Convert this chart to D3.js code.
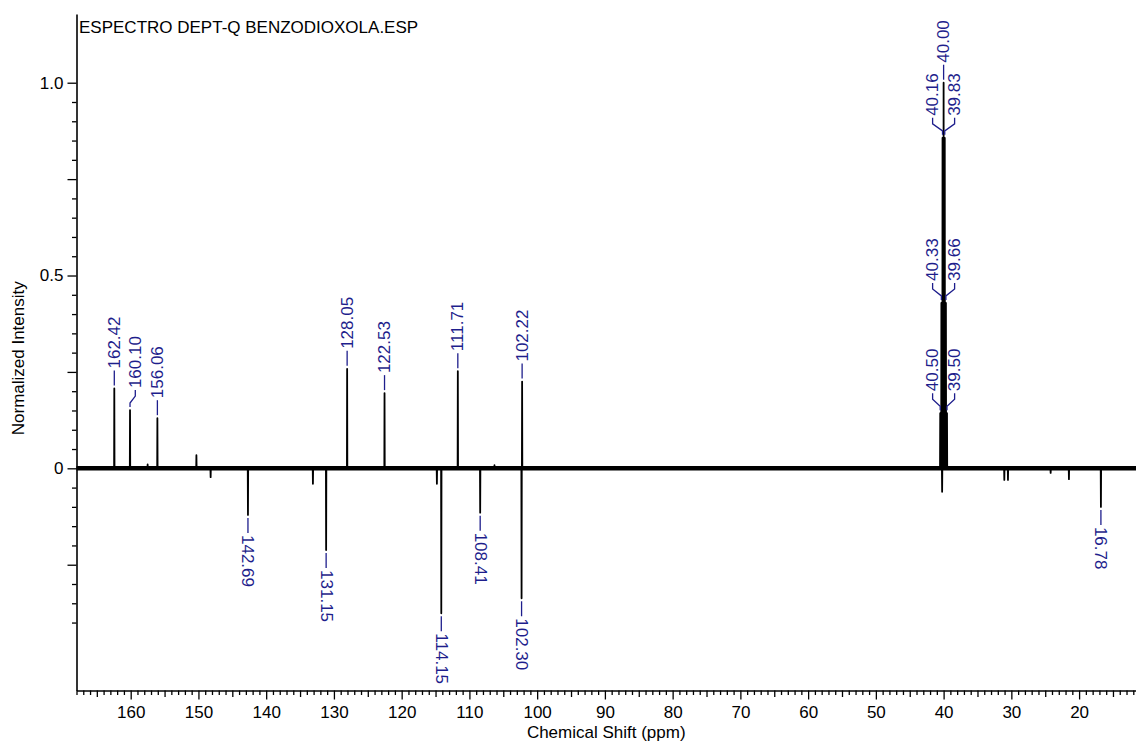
<!DOCTYPE html>
<html>
<head>
<meta charset="utf-8">
<script src="https://cdn.jsdelivr.net/npm/d3@7"></script>
<style>
  html, body { margin: 0; padding: 0; background: #fff; }
  svg { display: block; font-family: "Liberation Sans", Arial, Helvetica, sans-serif; }
</style>
</head>
<body>
<svg id="chart" width="1136" height="746"></svg>
<script>
// DEPT-Q 13C spectrum of benzodioxole in DMSO-d6

const title = "ESPECTRO DEPT-Q BENZODIOXOLA.ESP";
const xTitle = "Chemical Shift (ppm)";
const yTitle = "Normalized Intensity";

// labelled resonances (ppm) and their normalized intensities
const peakShifts = [162.42, 160.10, 156.06, 128.05, 122.53, 111.71, 102.22,
                    40.50, 40.33, 40.16, 40.00, 39.83, 39.66, 39.50,
                    142.69, 131.15, 114.15, 108.41, 102.30, 16.78];
const peakIntensities = [0.207, 0.151, 0.130, 0.258, 0.195, 0.252, 0.225,
                         0.143, 0.429, 0.857, 1.000, 0.857, 0.429, 0.143,
                         -0.121, -0.212, -0.376, -0.115, -0.337, -0.100];

// small unlabelled signals on the baseline
const minorShifts = [157.5, 150.3, 148.2, 133.1, 114.8, 106.3, 40.22, 31.04, 30.50, 24.2, 21.5];
const minorIntensities = [0.010, 0.034, -0.023, -0.040, -0.040, 0.008, -0.061, -0.030, -0.030, -0.012, -0.028];

const xTickLabels = [160, 150, 140, 130, 120, 110, 100, 90, 80, 70, 60, 50, 40, 30, 20];
const yTickLabels = [0, 0.5, 1.0];

const svg = d3.select("#chart");
const plot = { left: 76.5, right: 1136, top: 14, bottom: 690.5 };
const fontSize = 17;
const labelColor = "#1e1e8c";

const x = d3.scaleLinear().domain([168.0, 11.6]).range([plot.left, plot.right]);
const y = d3.scaleLinear().domain([-0.5762, 1.1782]).range([plot.bottom, plot.top]);

// ---- axes ----
const xTicks = d3.range(12, 169, 1);
const xAxis = d3.axisBottom(x)
  .tickValues(xTicks)
  .tickSizeInner(9)
  .tickSizeOuter(0)
  .tickPadding(6)
  .tickFormat(d => xTickLabels.includes(d) ? String(d) : "");
const gx = svg.append("g").attr("transform", `translate(0,${plot.bottom})`).call(xAxis);
gx.selectAll(".tick line")
  .attr("y2", d => d % 10 === 0 ? 9 : (d % 5 === 0 ? 6.5 : 4.5))
  .attr("stroke-width", 1.3);

const yTicks = d3.range(-8, 21).map(i => +(i * 0.05).toFixed(2));
const yAxis = d3.axisLeft(y)
  .tickValues(yTicks)
  .tickSizeInner(9)
  .tickSizeOuter(0)
  .tickPadding(4)
  .tickFormat(d => yTickLabels.includes(d) ? (d === 0 ? "0" : d.toFixed(1)) : "");
const gy = svg.append("g").attr("transform", `translate(${plot.left},0)`).call(yAxis);
gy.selectAll(".tick line")
  .attr("x2", d => Math.abs(Math.round(d * 100) % 25) === 0 ? -9 : -4.5)
  .attr("stroke-width", 1.3);

[gx, gy].forEach(g => {
  g.select(".domain").attr("stroke", "#000").attr("stroke-width", 1.6);
  g.selectAll(".tick line").attr("stroke", "#000");
  g.selectAll("text").attr("font-size", fontSize).attr("fill", "#000")
    .attr("font-family", "Liberation Sans, Arial, sans-serif");
});

// ---- titles ----
svg.append("text").attr("x", 79).attr("y", 33).attr("font-size", fontSize).attr("fill", "#000").text(title);
svg.append("text").attr("x", (plot.left + plot.right) / 2).attr("y", 737.5)
  .attr("text-anchor", "middle").attr("font-size", fontSize).attr("fill", "#000").text(xTitle);
svg.append("text")
  .attr("transform", `translate(24,${(plot.top + plot.bottom) / 2 + 6}) rotate(-90)`)
  .attr("text-anchor", "middle").attr("font-size", fontSize).attr("fill", "#000").text(yTitle);

// ---- spectrum ----
const signals = peakShifts.map((p, i) => ({ ppm: p, v: peakIntensities[i] }))
  .concat(minorShifts.map((p, i) => ({ ppm: p, v: minorIntensities[i] })));
const hw = 0.03;
let pts = [[x.domain()[0], 0], [x.domain()[1], 0]];
signals.forEach(s => { pts.push([s.ppm + hw, 0], [s.ppm, s.v], [s.ppm - hw, 0]); });
pts.sort((a, b) => b[0] - a[0]);

const line = d3.line().x(d => x(d[0])).y(d => y(d[1]));

// baseline noise band
svg.append("path")
  .attr("d", line([[x.domain()[0], 0], [x.domain()[1], 0]]))
  .attr("stroke", "#000").attr("stroke-width", 4.5).attr("fill", "none");

svg.append("path")
  .attr("d", line(pts))
  .attr("stroke", "#000").attr("stroke-width", 1.8)
  .attr("stroke-linejoin", "round").attr("fill", "none");

// ---- peak labels ----
const peaks = peakShifts.map((p, i) => ({ ppm: p, v: peakIntensities[i] }));
const em = ch => (ch === "." ? 0.278 : 0.556);
peaks.forEach(d => {
  const near = peaks.filter(e => Math.abs(e.ppm - d.ppm) <= 1.01 && Math.sign(e.v) === Math.sign(d.v));
  const anchor = near.reduce((a, b) => (Math.abs(b.v) > Math.abs(a.v) ? b : a));
  d.cluster = near.length > 2;
  d.dir = d.v > 0 ? -1 : 1;
  d.px = x(d.ppm);
  d.yEnd = y(d.v);
  d.text = d.ppm.toFixed(2);
  d.len = d.text.split("").reduce((s, c) => s + em(c), 0) * fontSize;
  if (d.cluster) {
    const side = d.ppm > anchor.ppm ? -1 : (d.ppm < anchor.ppm ? 1 : 0);
    d.lx = x(anchor.ppm) + side * 11;
  } else {
    d.lx = d.px;
  }
  d.bent = Math.abs(d.lx - d.px) > 0.5;
  d.start = d.yEnd + d.dir * (d.bent ? 22 : 20);
});

// spread neighbouring single labels that would collide
[-1, 1].forEach(dir => {
  const row = peaks.filter(d => !d.cluster && d.dir === dir).sort((a, b) => a.px - b.px);
  for (let i = 1; i < row.length; i++) {
    const a = row[i - 1], b = row[i];
    const spanA = [Math.min(a.start, a.start + dir * a.len), Math.max(a.start, a.start + dir * a.len)];
    const spanB = [Math.min(b.start, b.start + dir * b.len), Math.max(b.start, b.start + dir * b.len)];
    const overlap = spanA[0] < spanB[1] && spanB[0] < spanA[1];
    if (overlap && b.lx - a.lx < 21) {
      b.lx = a.lx + 21;
      b.bent = Math.abs(b.lx - b.px) > 0.5;
      b.start = b.yEnd + dir * (b.bent ? 22 : 20);
    }
  }
});

const gl = svg.append("g");
peaks.forEach(d => {
  const a = d.yEnd + d.dir * 3;
  const b = d.start - d.dir * 2;
  const path = d.bent
    ? `M${d.px},${a}L${d.px},${a + d.dir * 4}L${d.lx},${a + d.dir * 11}L${d.lx},${b}`
    : `M${d.lx},${a}L${d.lx},${b}`;
  gl.append("path").attr("d", path).attr("fill", "none")
    .attr("stroke", labelColor).attr("stroke-width", 1.3);
  gl.append("text")
    .attr("transform", `translate(${d.lx},${d.start}) rotate(${d.dir < 0 ? -90 : 90})`)
    .attr("dominant-baseline", "central")
    .attr("font-size", fontSize)
    .attr("fill", labelColor)
    .text(d.text);
});
</script>
</body>
</html>
